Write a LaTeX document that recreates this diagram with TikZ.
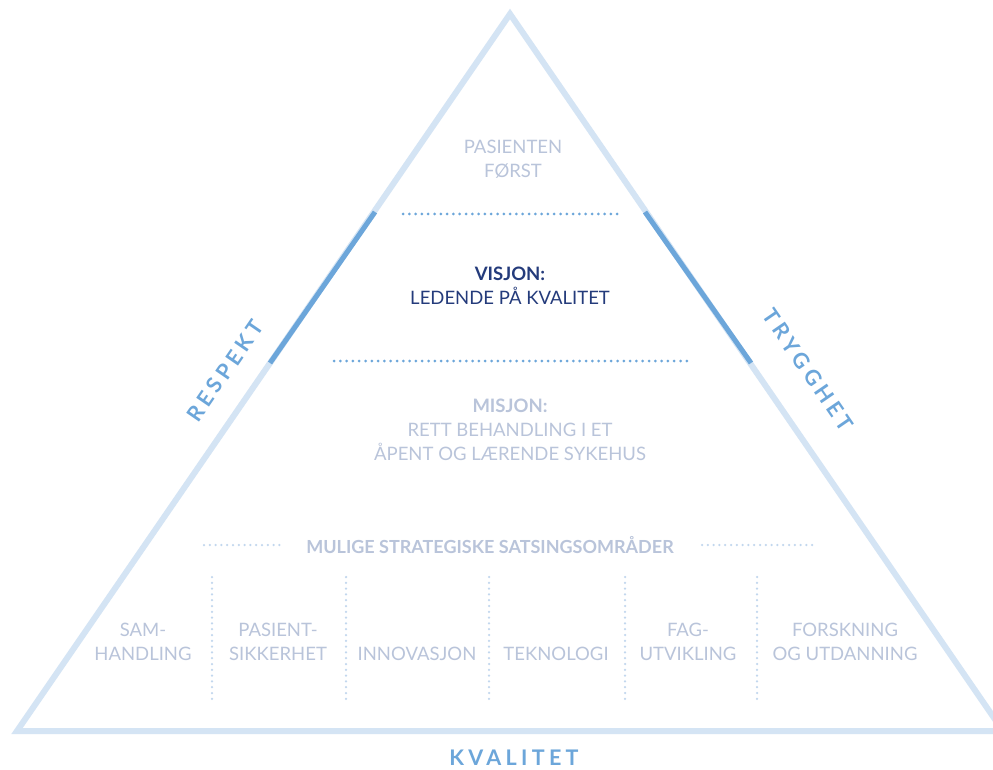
\documentclass[tikz,border=0pt]{standalone}
\usepackage{fontspec}
\setmainfont{Lato}
\definecolor{triLight}{HTML}{D4E4F4}
\definecolor{triDark}{HTML}{6CA6DA}
\definecolor{txtGrey}{HTML}{B9C4DA}
\definecolor{txtNavy}{HTML}{243B7B}
\definecolor{dotLight}{HTML}{C2D7EE}
\begin{document}
\begin{tikzpicture}[x=1pt,y=-1pt,
  greytxt/.style={text=txtGrey,font=\fontsize{18.5}{24}\selectfont,align=center,inner sep=0pt},
  navytxt/.style={text=txtNavy,font=\fontsize{18.5}{24}\selectfont,align=center,inner sep=0pt},
  sidetxt/.style={text=triDark,font=\fontsize{21.5}{24}\selectfont\bfseries\addfontfeatures{LetterSpace=20},inner sep=0pt},
  dotbig/.style={triDark,line width=3pt,line cap=round,dash pattern=on 0pt off 6.3pt},
  dotsmall/.style={dotLight,line width=2.5pt,line cap=round,dash pattern=on 0pt off 5.8pt},
  edge/.style={triLight,line width=6pt,line join=miter},
  edgedark/.style={triDark,line width=5pt}]
\useasboundingbox (0,0) rectangle (993,770);
\fill[white] (0,0) rectangle (993,770);
% triangle
\coordinate (apex) at (510,14);
\coordinate (bl) at (17,731);
\coordinate (br) at (1003,731);
\draw[edge] (apex) -- (br) -- (bl) -- cycle;
% dark segments
\coordinate (ld1) at (375,212);
\coordinate (ld2) at (270,363);
\coordinate (rd1) at (645,212);
\coordinate (rd2) at (751,363);
\draw[edgedark] (ld1) -- (ld2);
\draw[edgedark] (rd1) -- (rd2);
% dotted separators
\coordinate (s1a) at (403,214); \coordinate (s1b) at (623,214);
\coordinate (s2a) at (334,361); \coordinate (s2b) at (689,361);
\draw[dotbig] (s1a) -- (s1b);
\draw[dotbig] (s2a) -- (s2b);
\coordinate (m1a) at (204,545); \coordinate (m1b) at (280,545);
\coordinate (m2a) at (702,545); \coordinate (m2b) at (815,545);
\draw[dotsmall] (m1a) -- (m1b);
\draw[dotsmall] (m2a) -- (m2b);
\foreach \i/\x in {1/212,2/346,3/489,4/625,5/757}{
  \coordinate (v\i a) at (\x,577); \coordinate (v\i b) at (\x,703);
  \draw[dotsmall] (v\i a) -- (v\i b);
}
% texts
\node[greytxt] (forst) at (513,159) {PASIENTEN\\FØRST};
\node[navytxt] (visjon) at (510,286) {\bfseries VISJON:\\LEDENDE PÅ KVALITET};
\node[greytxt] (misjon) at (510,430) {\bfseries MISJON:\\RETT BEHANDLING I ET\\ÅPENT OG LÆRENDE SYKEHUS};
\node[greytxt,font=\fontsize{18}{24}\selectfont\bfseries] (mulige) at (490,545) {MULIGE STRATEGISKE SATSINGSOMRÅDER};
\node[greytxt] (c1) at (143,642) {SAM-\\HANDLING};
\node[greytxt] (c2) at (278,642) {PASIENT-\\SIKKERHET};
\node[greytxt] (c3) at (417,654) {INNOVASJON};
\node[greytxt] (c4) at (556,654) {TEKNOLOGI};
\node[greytxt] (c5) at (688,642) {FAG-\\UTVIKLING};
\node[greytxt] (c6) at (845,642) {FORSKNING\\OG UTDANNING};
\node[sidetxt] (kval) at (514,758) {KVALITET};
\node[sidetxt,rotate=55.5] (resp) at (225,371) {RESPEKT};
\node[sidetxt,rotate=-55.5] (tryg) at (808,370) {TRYGGHET};
\end{tikzpicture}
\end{document}
